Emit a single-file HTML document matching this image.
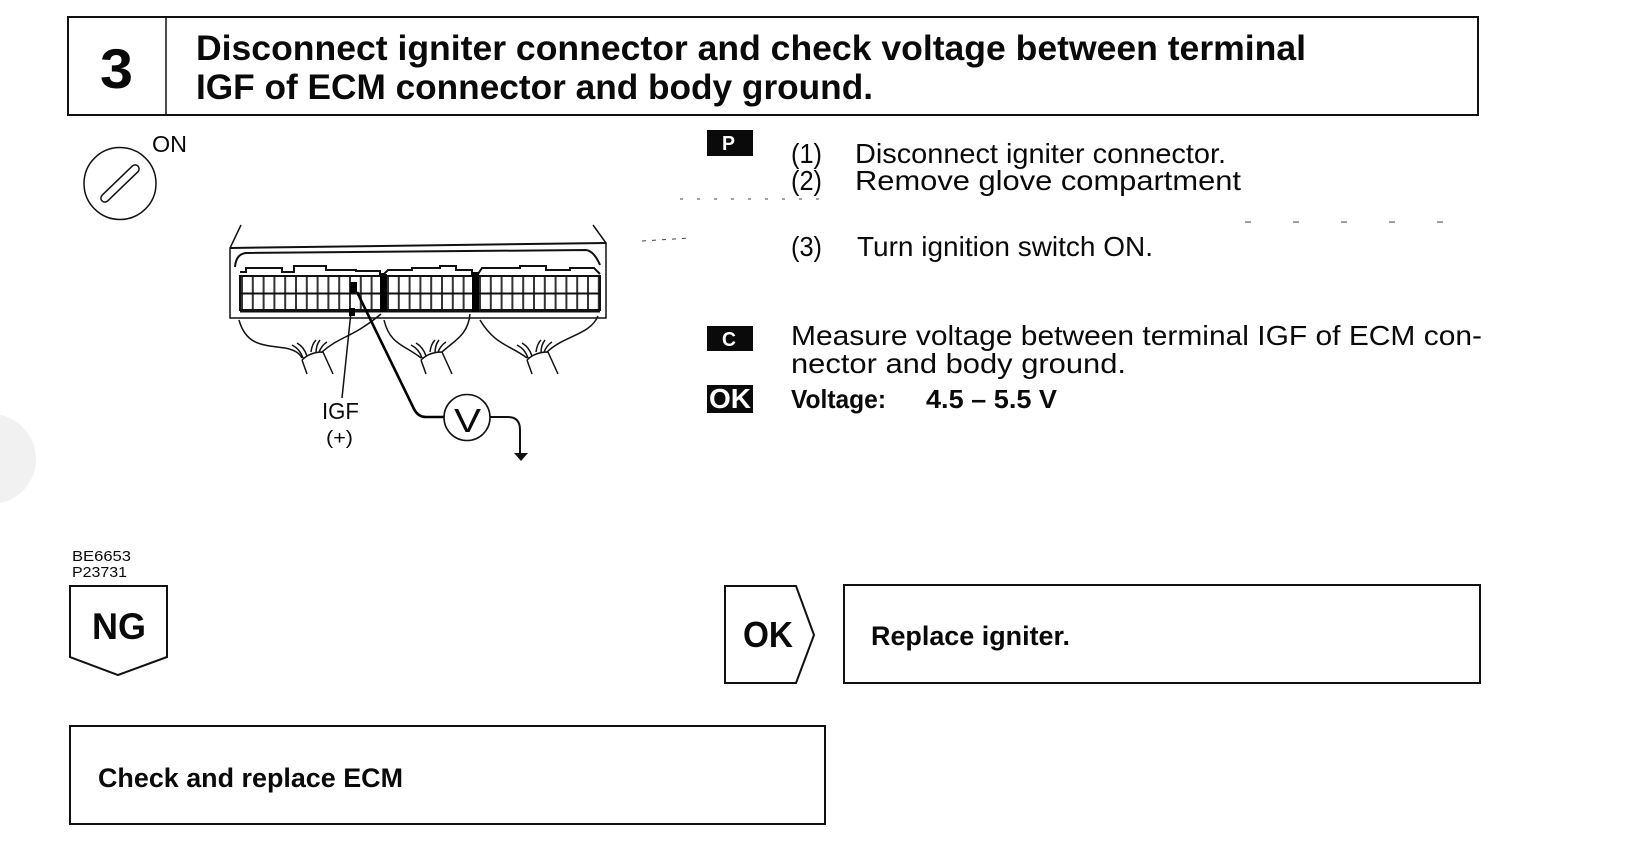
<!DOCTYPE html>
<html><head><meta charset="utf-8"><style>
html,body{margin:0;padding:0;background:#fff}
svg{display:block}
text{font-family:"Liberation Sans",sans-serif;fill:#0a0a0a}
.b{font-weight:bold}
</style></head><body>
<svg width="1635" height="846" viewBox="0 0 1635 846" xmlns="http://www.w3.org/2000/svg">
<rect width="1635" height="846" fill="#fff"/>
<circle cx="-9" cy="459" r="45" fill="#f1f1f1"/>
<g fill="none" stroke="#111" stroke-width="2">
<rect x="68" y="17" width="1410" height="98"/>
<line x1="166" y1="17" x2="166" y2="115" stroke-width="1.5"/>
<rect x="844" y="585" width="636" height="98"/>
<rect x="70" y="726" width="755" height="98"/>
<path d="M70 586H167V657L118 675L70 657Z"/>
<path d="M725 586H796L814 635L796 683H725Z"/>
</g>
<text class="b" x="100" y="88" font-size="56" textLength="33" lengthAdjust="spacingAndGlyphs">3</text>
<text class="b" x="196" y="60" font-size="35" textLength="1110" lengthAdjust="spacingAndGlyphs">Disconnect igniter connector and check voltage between terminal</text>
<text class="b" x="196" y="99" font-size="35" textLength="677" lengthAdjust="spacingAndGlyphs">IGF of ECM connector and body ground.</text>

<text x="152" y="152" font-size="23" textLength="35" lengthAdjust="spacingAndGlyphs">ON</text>
<circle cx="120" cy="183.5" r="36" fill="none" stroke="#111" stroke-width="1.5"/>
<rect x="95" y="179.5" width="50" height="8" rx="4" transform="rotate(-44 120 183.5)" fill="none" stroke="#111" stroke-width="1.5"/>

<g fill="none" stroke="#111" stroke-width="1.5">
<path d="M241 225L230 248V318H606V243L593 225"/>
<path d="M230 248L606 243" stroke-width="2"/>
<path d="M235 267Q236 254 246 253L586 250Q594 251 600 265" stroke-width="2"/>
<path d="M240 272H246V268H282V272H294V266H326V270H356V271H380V274H384L388 270H412V268H440V266H456V270H472V274H478L482 268H520V266H546V270H570V268H594L600 274" stroke-width="2"/>
<rect x="240" y="276" width="360" height="34" stroke-width="2"/>
<line x1="240" y1="293.5" x2="600" y2="293.5" stroke-width="2"/>
<line x1="240" y1="311" x2="600" y2="311" stroke-width="3"/>
<line x1="241" y1="293" x2="380" y2="293" stroke-width="33" stroke-dasharray="2 8.8" opacity=".85"/>
<line x1="387" y1="293" x2="472" y2="293" stroke-width="33" stroke-dasharray="2 8.8" opacity=".85"/>
<line x1="479" y1="293" x2="600" y2="293" stroke-width="33" stroke-dasharray="2 8.8" opacity=".85"/>
<!-- harness wires -->
<path d="M239 320C246 345 262 345 285 348C296 350 300 354 302 358"/>
<path d="M322 352C340 336 352 338 381 314"/>
<path d="M384 320C390 345 405 345 421 358"/>
<path d="M442 352C455 340 468 335 470 314"/>
<path d="M480 320C495 345 510 345 527 358"/>
<path d="M547 352C565 335 590 335 598 316"/>
<!-- bundles -->
<g id="bd" transform="translate(302 358)">
<path d="M0 2Q8 -6 21 -6M0 2L5 16M21 -6L31 16M1 0Q-2 -9 -10 -13M5 -2Q2 -11 -5 -15M9 -6Q10 -14 14 -18M14 -5Q14 -13 18 -18M17 -6Q20 -13 25 -16"/>
</g>
<g transform="translate(421 358)">
<path d="M0 2Q8 -6 21 -6M0 2L5 16M21 -6L31 16M1 0Q-2 -9 -10 -13M5 -2Q2 -11 -5 -15M9 -6Q10 -14 14 -18M14 -5Q14 -13 18 -18M17 -6Q20 -13 25 -16"/>
</g>
<g transform="translate(527 358)">
<path d="M0 2Q8 -6 21 -6M0 2L5 16M21 -6L31 16M1 0Q-2 -9 -10 -13M5 -2Q2 -11 -5 -15M9 -6Q10 -14 14 -18M14 -5Q14 -13 18 -18M17 -6Q20 -13 25 -16"/>
</g>
<!-- IGF lead -->
<path d="M351 312L342 398" stroke-width="1.5"/>
</g>
<rect x="380" y="274" width="7" height="38" fill="#000"/>
<rect x="472" y="272" width="7" height="40" fill="#000"/>
<rect x="350" y="282" width="7" height="11" fill="#000"/>
<rect x="349" y="308" width="6" height="8" fill="#000"/>
<path d="M357 292L414 409Q418 417 426 417H444" fill="none" stroke="#000" stroke-width="2.6"/>
<circle cx="467" cy="417.5" r="23" fill="#fff" stroke="#111" stroke-width="1.6"/>
<text x="454" y="432" font-size="33" textLength="27" lengthAdjust="spacingAndGlyphs">V</text>
<path d="M490 417H508Q520 417 520 430V453" fill="none" stroke="#111" stroke-width="2"/>
<path d="M514 453H528L521 461Z" fill="#111"/>
<text x="322" y="419" font-size="23" textLength="37" lengthAdjust="spacingAndGlyphs">IGF</text>
<text x="326" y="444" font-size="19" textLength="27" lengthAdjust="spacingAndGlyphs">(+)</text>

<rect x="707" y="130" width="46" height="26" fill="#0a0a0a"/>
<rect x="707" y="326" width="46" height="25" fill="#0a0a0a"/>
<rect x="707" y="385" width="46" height="28" fill="#0a0a0a"/>
<text class="b" x="722" y="150" font-size="20" style="fill:#fff" textLength="13" lengthAdjust="spacingAndGlyphs">P</text>
<text class="b" x="722" y="346" font-size="20" style="fill:#fff" textLength="14" lengthAdjust="spacingAndGlyphs">C</text>
<text class="b" x="709" y="408" font-size="28" style="fill:#fff" textLength="42" lengthAdjust="spacingAndGlyphs">OK</text>

<g font-size="28">
<text x="791" y="163" textLength="31" lengthAdjust="spacingAndGlyphs">(1)</text>
<text x="855" y="163" textLength="371" lengthAdjust="spacingAndGlyphs">Disconnect igniter connector.</text>
<text x="791" y="190" textLength="31" lengthAdjust="spacingAndGlyphs">(2)</text>
<text x="855" y="190" textLength="386" lengthAdjust="spacingAndGlyphs">Remove glove compartment</text>
<text x="791" y="256" textLength="31" lengthAdjust="spacingAndGlyphs">(3)</text>
<text x="857" y="256" textLength="296" lengthAdjust="spacingAndGlyphs">Turn ignition switch ON.</text>
<text x="791" y="345" textLength="691" lengthAdjust="spacingAndGlyphs">Measure voltage between terminal IGF of ECM con-</text>
<text x="791" y="373" textLength="335" lengthAdjust="spacingAndGlyphs">nector and body ground.</text>
</g>
<text class="b" x="791" y="408" font-size="26" textLength="95" lengthAdjust="spacingAndGlyphs">Voltage:</text>
<text class="b" x="926" y="408" font-size="26" textLength="131" lengthAdjust="spacingAndGlyphs">4.5 – 5.5 V</text>

<text x="72" y="561" font-size="15" textLength="59" lengthAdjust="spacingAndGlyphs">BE6653</text>
<text x="72" y="577" font-size="15" textLength="55" lengthAdjust="spacingAndGlyphs">P23731</text>
<text class="b" x="92" y="639" font-size="37" textLength="54" lengthAdjust="spacingAndGlyphs">NG</text>
<text class="b" x="743" y="647" font-size="36" textLength="50" lengthAdjust="spacingAndGlyphs">OK</text>
<text class="b" x="871" y="645" font-size="27" textLength="199" lengthAdjust="spacingAndGlyphs">Replace igniter.</text>
<text class="b" x="98" y="787" font-size="27" textLength="305" lengthAdjust="spacingAndGlyphs">Check and replace ECM</text>

<g stroke="#444" stroke-width="1" fill="none">
<line x1="680" y1="199" x2="820" y2="199" stroke-dasharray="3 14"/>
<line x1="1245" y1="222" x2="1480" y2="222" stroke-dasharray="6 42"/>
<line x1="642" y1="241" x2="690" y2="238" stroke-dasharray="4 6"/>
</g>
</svg>
</body></html>
